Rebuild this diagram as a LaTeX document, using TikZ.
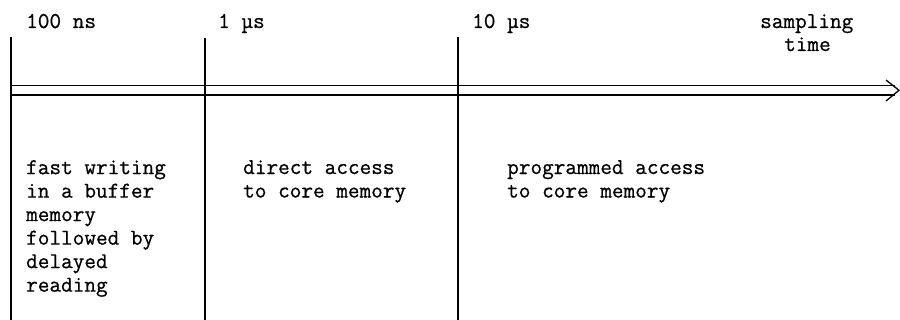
\documentclass[tikz,border=0pt]{standalone}
\usepackage{fontspec}
\setmonofont[FakeBold=0.7]{Latin Modern Mono}
\begin{document}
\begin{tikzpicture}[x=1pt,y=1pt,
  rule/.style={line width=1.3pt},
  lbl/.style={inner sep=0pt,anchor=base west,font=\ttfamily\fontsize{22.6}{23.5}\selectfont},
  blk/.style={inner sep=0pt,anchor=north west,align=left,font=\ttfamily\fontsize{22.6}{23.5}\selectfont}]
\useasboundingbox (0,0) rectangle (900,-320);
% vertical boundaries
\coordinate (v1t) at (11,-37);  \coordinate (v1b) at (11,-320);
\coordinate (v2t) at (205,-38); \coordinate (v2b) at (205,-320);
\coordinate (v3t) at (458,-37); \coordinate (v3b) at (458,-320);
\draw[rule] (v1t) -- (v1b);
\draw[rule] (v2t) -- (v2b);
\draw[rule] (v3t) -- (v3b);
% double time axis
\coordinate (a1s) at (11,-85.5); \coordinate (a1e) at (895,-85.5);
\coordinate (a2s) at (11,-95);   \coordinate (a2e) at (895,-95);
\coordinate (tipA) at (886,-80); \coordinate (tip) at (899,-90.3); \coordinate (tipB) at (886,-101);
\draw[rule] (a1s) -- (a1e);
\draw[rule] (a2s) -- (a2e);
\draw[rule,line join=miter] (tipA) -- (tip) -- (tipB);
% labels
\node[lbl] (t1) at (26,-28) {100 ns};
\node[lbl] (t2) at (218,-28) {1 µs};
\node[lbl] (t3) at (472,-28) {10 µs};
\node[lbl] (t4) at (760,-28) {sampling};
\node[lbl] (t5) at (784,-51) {time};
% region texts
\node[blk] (r1) at (26,-160) {fast writing\\in a buffer\\memory\\followed by\\delayed\\reading};
\node[blk] (r2) at (243,-160) {direct access\\to core memory};
\node[blk] (r3) at (507,-160) {programmed access\\to core memory};
\end{tikzpicture}
\end{document}
